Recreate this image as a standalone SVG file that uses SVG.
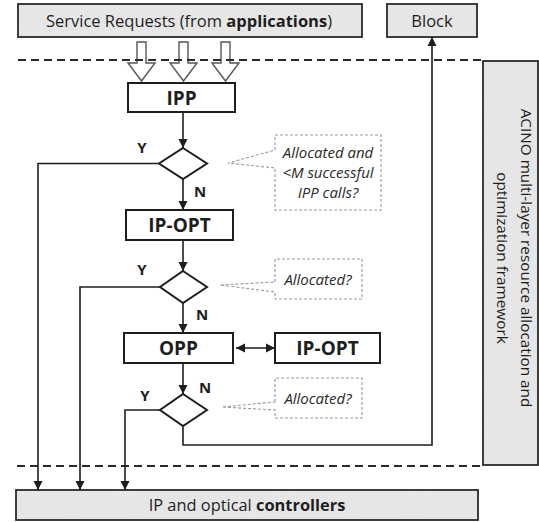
<svg xmlns="http://www.w3.org/2000/svg" width="539" height="522" viewBox="0 0 539 522">
<style>
.box{fill:#fff;stroke:#1e1e1e;stroke-width:2}
.gbox{fill:url(#hatch);stroke:#2a2a2a;stroke-width:1.8}
.t{font-family:"Open Sans","Liberation Sans",sans-serif;fill:#1e1e1e}
.b{font-weight:bold}
.lbl{font-family:"Open Sans","Liberation Sans",sans-serif;font-weight:bold;font-size:15px;fill:#1e1e1e}
.call{fill:#fff;stroke:#9a9a9a;stroke-width:1.1;stroke-dasharray:3 2}
.ct{font-family:"Open Sans","Liberation Sans",sans-serif;font-style:italic;font-size:15px;fill:#2a2a2a;text-anchor:middle}
.dash{stroke:#2a2a2a;stroke-width:2;stroke-dasharray:8 5;fill:none}
.conn{stroke:#1e1e1e;stroke-width:1.6;fill:none}
.hollow{fill:#fff;stroke:#555;stroke-width:1.4}
</style>
<defs>
<pattern id="hatch" width="3" height="3" patternUnits="userSpaceOnUse" patternTransform="rotate(45)">
<rect width="3" height="3" fill="#e8e8e8"/>
<line x1="0" y1="0" x2="0" y2="3" stroke="#dcdcdc" stroke-width="1"/>
</pattern>
<marker id="ah" viewBox="0 0 10 10" refX="10" refY="5" markerWidth="9" markerHeight="10" markerUnits="userSpaceOnUse" orient="auto-start-reverse">
<path d="M0,0 L10,5 L0,10 z" fill="#1e1e1e"/>
</marker>
</defs>

<g id="framework">
<rect class="gbox" x="483" y="61" width="55" height="404"/>
<g transform="translate(510,258) rotate(90)">
<text class="t" x="0" y="-11" font-size="15.3" text-anchor="middle">ACINO multi-layer resource allocation and</text>
<text class="t" x="0" y="13" font-size="15.3" text-anchor="middle">optimization  framework</text>
</g>
</g>

<g id="requests">
<rect class="gbox" x="18" y="4" width="344" height="33"/>
<text class="t" x="189" y="27" font-size="16.5" text-anchor="middle">Service Requests (from <tspan class="b">applications</tspan>)</text>
</g>

<g id="block">
<rect class="gbox" x="387" y="4" width="90" height="33"/>
<text class="t" x="432" y="27" font-size="16.5" text-anchor="middle">Block</text>
</g>

<g id="input-arrows">
<path class="hollow" d="M137,42 H146 V63 H155 L141.5,81 L128,63 H137 Z"/>
<path class="hollow" d="M179,42 H188 V63 H197 L183.5,81 L170,63 H179 Z"/>
<path class="hollow" d="M221,42 H230 V63 H239 L225.5,81 L212,63 H221 Z"/>
</g>

<g id="boundaries">
<line class="dash" x1="18" y1="60" x2="483" y2="60"/>
<line class="dash" x1="17" y1="466" x2="483" y2="466"/>
</g>

<g id="controllers">
<rect class="gbox" x="16" y="490" width="462" height="30"/>
<text class="t" x="247" y="511" font-size="16.4" text-anchor="middle">IP and optical <tspan class="b">controllers</tspan></text>
</g>

<g id="ipp">
<rect class="box" x="128" y="83" width="107" height="29"/>
<text class="t b" x="181.5" y="104.5" font-size="19" text-anchor="middle">IPP</text>
</g>

<g id="decision1">
<path class="box" d="M183,148 L207,163.5 L183,179 L159,163.5 Z"/>
</g>

<g id="ipopt1">
<rect class="box" x="126" y="210" width="107" height="30"/>
<text class="t b" x="179.5" y="232" font-size="19" text-anchor="middle">IP-OPT</text>
</g>

<g id="decision2">
<path class="box" d="M183,271 L207,287 L183,303 L160,287 Z"/>
</g>

<g id="opp">
<rect class="box" x="124" y="333" width="109" height="30"/>
<text class="t b" x="178.5" y="355" font-size="19" text-anchor="middle">OPP</text>
</g>

<g id="ipopt2">
<rect class="box" x="275" y="333" width="105" height="30"/>
<text class="t b" x="327.5" y="355" font-size="19" text-anchor="middle">IP-OPT</text>
</g>

<g id="decision3">
<path class="box" d="M183,394 L207,410 L183,426 L160,410 Z"/>
</g>

<g id="callout1">
<path class="call" d="M275,150 V135 H381 V210 H275 V168 L228,163 Z"/>
<text class="ct" x="328" y="158">Allocated and</text>
<text class="ct" x="328" y="178">&lt;M successful</text>
<text class="ct" x="328" y="198">IPP calls?</text>
</g>

<g id="callout2">
<path class="call" d="M275,282 V259 H362 V299 H275 V292 L220,285 Z"/>
<text class="ct" x="318" y="285">Allocated?</text>
</g>

<g id="callout3">
<path class="call" d="M275,402 V378 H362 V418 H275 V410 L222,407 Z"/>
<text class="ct" x="318" y="404">Allocated?</text>
</g>

<g id="connectors">
<line class="conn" x1="183" y1="112" x2="183" y2="148" marker-end="url(#ah)"/>
<line class="conn" x1="183" y1="179" x2="183" y2="210" marker-end="url(#ah)"/>
<line class="conn" x1="183" y1="240" x2="183" y2="271" marker-end="url(#ah)"/>
<line class="conn" x1="183" y1="303" x2="183" y2="333" marker-end="url(#ah)"/>
<line class="conn" x1="183" y1="363" x2="183" y2="394" marker-end="url(#ah)"/>
<polyline class="conn" points="159,163.5 38,163.5 38,490" marker-end="url(#ah)"/>
<polyline class="conn" points="160,287 80,287 80,490" marker-end="url(#ah)"/>
<polyline class="conn" points="160,410 125,410 125,490" marker-end="url(#ah)"/>
<polyline class="conn" points="183,426 183,445 432,445 432,37" marker-end="url(#ah)"/>
<line class="conn" x1="236" y1="348" x2="275" y2="348" marker-start="url(#ah)" marker-end="url(#ah)"/>
<text class="lbl" x="142" y="153" text-anchor="middle">Y</text>
<text class="lbl" x="200" y="197" text-anchor="middle">N</text>
<text class="lbl" x="142" y="275" text-anchor="middle">Y</text>
<text class="lbl" x="202" y="320" text-anchor="middle">N</text>
<text class="lbl" x="205" y="393" text-anchor="middle">N</text>
<text class="lbl" x="145" y="401" text-anchor="middle">Y</text>
</g>
</svg>
